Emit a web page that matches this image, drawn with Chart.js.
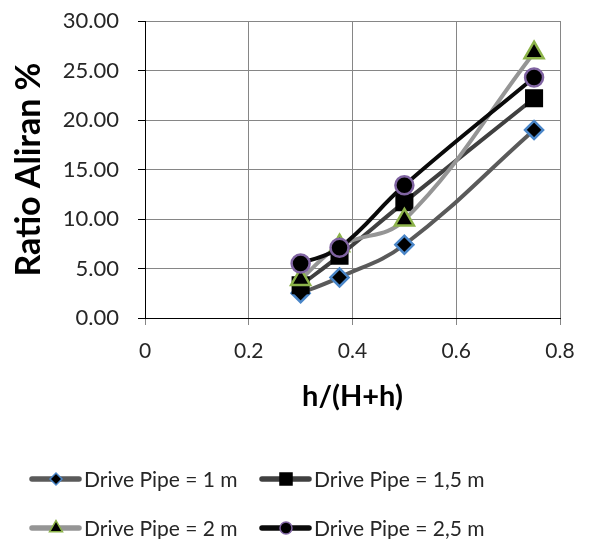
<!DOCTYPE html>
<html>
<head>
<meta charset="utf-8">
<script src="https://cdn.jsdelivr.net/npm/chart.js@4.4.1/dist/chart.umd.min.js"></script>
<style>
  html, body { margin: 0; padding: 0; background: #fff; }
  #chart-area { display: block; }
</style>
</head>
<body>
<canvas id="chart-area" width="592" height="539"></canvas>
<script>
// data
var ratioX = [0.3, 0.375, 0.5, 0.75];
var pipe1m = [2.5, 4.1, 7.4, 19.0];
var pipe15m = [3.3, 6.3, 11.7, 22.2];
var pipe2m = [3.9, 7.3, 9.9, 26.8];
var pipe25m = [5.5, 7.1, 13.4, 24.3];
var seriesLabels = ["Drive Pipe = 1 m", "Drive Pipe = 1,5 m", "Drive Pipe = 2 m", "Drive Pipe = 2,5 m"];
var yTicks = [0, 5, 10, 15, 20, 25, 30];
var xTicks = [0, 0.2, 0.4, 0.6, 0.8];

var tickFont = "Lato, 'DejaVu Sans', sans-serif";

function toPoints(values) {
    var pts = [];
    for (var i = 0; i < values.length; i++) {
        pts.push({ x: ratioX[i], y: values[i] });
    }
    return pts;
}

//marker styles per serie (excel-like look)
var seriesStyle = [
    { line: '#5a5a5a', border: '#4a86c8', pointStyle: 'rectRot', radius: 9, legendRadius: 6 },
    { line: '#404040', border: '#000000', pointStyle: 'rect', radius: 11, legendRadius: 8.5 },
    { line: '#959595', border: '#8cb34a', pointStyle: 'triangle', radius: 11, legendRadius: 7.5 },
    { line: '#0a0a0a', border: '#8064a2', pointStyle: 'circle', radius: 9, legendRadius: 6 }
];
var seriesValues = [pipe1m, pipe15m, pipe2m, pipe25m];

var datasets = [];
for (var s = 0; s < seriesValues.length; s++) {
    datasets.push({
        label: seriesLabels[s],
        data: toPoints(seriesValues[s]),
        borderColor: seriesStyle[s].line,
        borderWidth: 4,
        tension: 0.4,
        pointStyle: seriesStyle[s].pointStyle,
        pointRadius: seriesStyle[s].radius,
        pointBackgroundColor: '#000000',
        pointBorderColor: seriesStyle[s].border,
        pointBorderWidth: 2.5,
        order: seriesValues.length - 1 - s //last serie on top, like excel
    });
}

//legend drawn by hand: two columns, line sample with marker in the middle
var legendPlugin = {
    id: 'lineLegend',
    afterDraw: function (chart) {
        var ctx = chart.ctx;
        var rowsY = [479, 528];
        var colsX = [32, 262];
        for (var i = 0; i < chart.data.datasets.length; i++) {
            var ds = chart.data.datasets[i];
            var st = seriesStyle[i];
            var x0 = colsX[i % 2];
            var y = rowsY[Math.floor(i / 2)];
            ctx.save();
            ctx.strokeStyle = st.line;
            ctx.lineWidth = 5.5;
            ctx.lineCap = 'round';
            ctx.beginPath();
            ctx.moveTo(x0, y);
            ctx.lineTo(x0 + 47, y);
            ctx.stroke();
            ctx.fillStyle = '#000000';
            ctx.strokeStyle = st.border;
            ctx.lineWidth = 1.5;
            Chart.helpers.drawPoint(ctx, {
                pointStyle: st.pointStyle,
                radius: st.legendRadius,
                rotation: 0,
                borderWidth: 1.5
            }, x0 + 24, y);
            ctx.fillStyle = '#262626';
            ctx.font = "21px " + tickFont;
            ctx.textAlign = 'left';
            ctx.textBaseline = 'middle';
            ctx.fillText(ds.label, x0 + 52, y + 1);
            ctx.restore();
        }
    }
};

var chart = new Chart(document.getElementById("chart-area").getContext("2d"), {
    type: 'line',
    data: { datasets: datasets },
    plugins: [legendPlugin],
    options: {
        responsive: false,
        animation: false,
        layout: {
            padding: { top: 21, right: 32, bottom: 121, left: 0 }
        },
        plugins: {
            legend: { display: false },
            tooltip: { enabled: false }
        },
        scales: {
            x: {
                type: 'linear',
                min: 0,
                max: 0.8,
                afterBuildTicks: function (scale) {
                    scale.ticks = xTicks.map(function (v) { return { value: v }; });
                },
                afterFit: function (scale) { scale.height = 100; },
                ticks: {
                    color: '#262626',
                    font: { family: tickFont, size: 21 },
                    padding: 14,
                    maxRotation: 0,
                    callback: function (v) { return v === 0 ? '0' : v.toFixed(1); }
                },
                grid: { color: '#868686', tickColor: '#868686', tickLength: 7, lineWidth: 1 },
                border: { color: '#000000', width: 1 },
                title: {
                    display: true,
                    text: 'h/(H+h)',
                    color: '#000000',
                    font: { family: tickFont, size: 29, weight: 'bold' },
                    padding: { top: 0, bottom: 4 }
                }
            },
            y: {
                min: 0,
                max: 30,
                afterBuildTicks: function (scale) {
                    scale.ticks = yTicks.map(function (v) { return { value: v }; });
                },
                afterFit: function (scale) {
                    scale.width = 145;
                    scale.paddingTop = 0; //top label fits in layout padding
                    scale.paddingBottom = 0;
                },
                ticks: {
                    color: '#262626',
                    font: { family: tickFont, size: 22 },
                    padding: 19,
                    callback: function (v) { return v.toFixed(2); }
                },
                grid: { color: '#868686', tickColor: '#000000', tickLength: 7, lineWidth: 1 },
                border: { color: '#000000', width: 1 },
                title: {
                    display: true,
                    text: 'Ratio Aliran %',
                    color: '#000000',
                    font: { family: tickFont, size: 34, weight: 'bold' },
                    padding: { top: 9, bottom: 0 }
                }
            }
        }
    }
});
</script>
</body>
</html>
